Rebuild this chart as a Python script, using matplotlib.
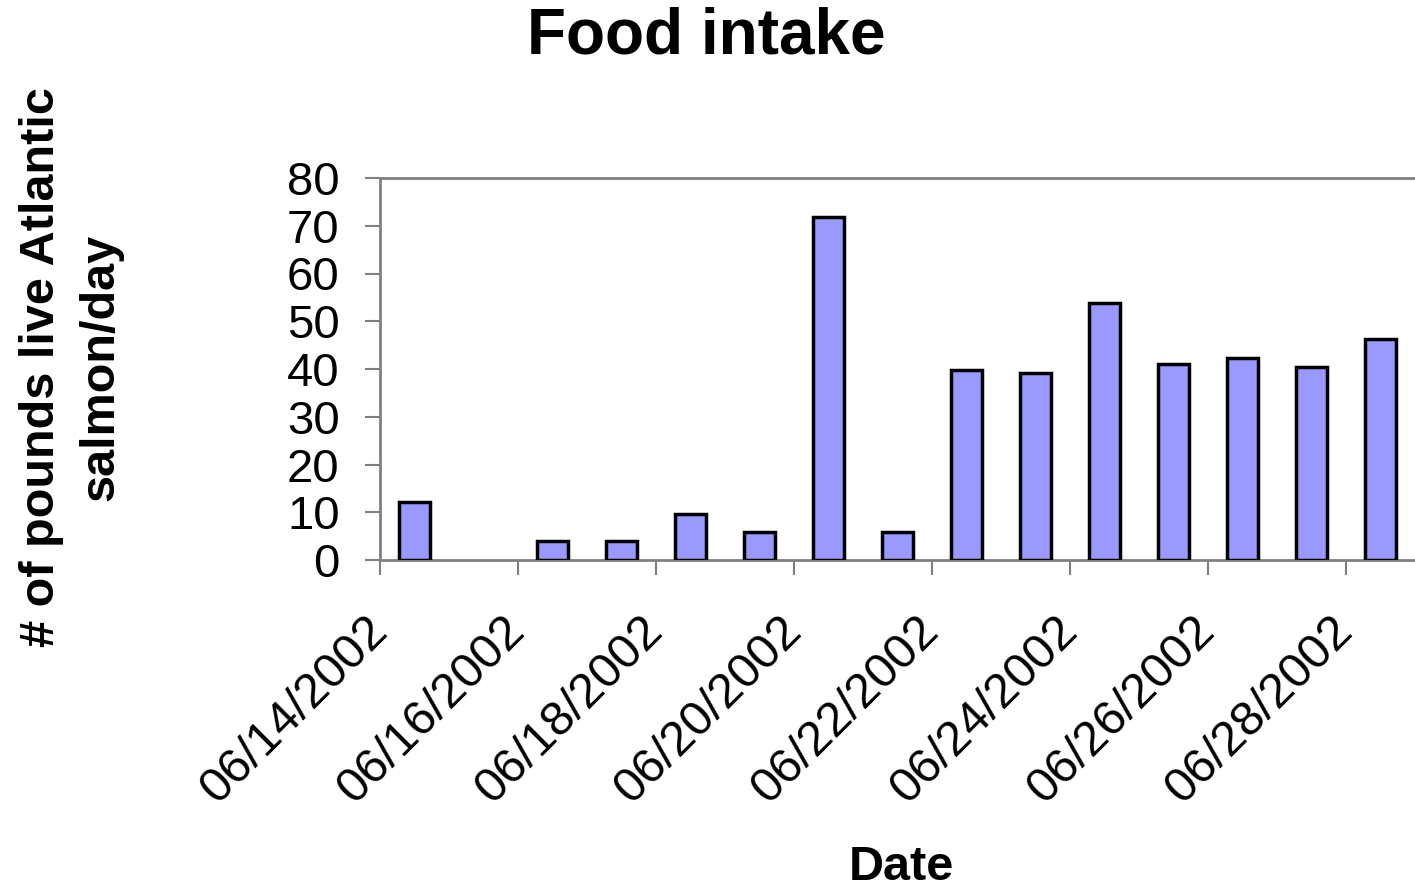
import numpy as np
import matplotlib
matplotlib.use('Agg')
import matplotlib.pyplot as plt

plt.rcParams['font.family'] = ['Liberation Sans', 'DejaVu Sans']

# Datos: libras de salmon por dia (06/15 sin dato)
fechas = ['06/14/2002', '06/15/2002', '06/16/2002', '06/17/2002', '06/18/2002',
          '06/19/2002', '06/20/2002', '06/21/2002', '06/22/2002', '06/23/2002',
          '06/24/2002', '06/25/2002', '06/26/2002', '06/27/2002', '06/28/2002']
libras = [12.2, np.nan, 4.0, 4.0, 9.7, 5.8, 71.8, 5.8, 39.8, 39.2,
          53.8, 41.0, 42.4, 40.5, 46.2]
yticks = [0, 10, 20, 30, 40, 50, 60, 70, 80]

fig = plt.figure(figsize=(14.15, 8.9), dpi=100)
ax = fig.add_axes([380/1415, 1-560/890, 1035/1415, 382/890])

n = len(fechas)
pos = np.arange(n) + 0.5
ax.bar(pos, libras, width=0.44, color='#9999ff', edgecolor='black',
       linewidth=2.5, zorder=3)

ax.set_xlim(0, n)
ax.set_ylim(0, 80)
ax.set_yticks(yticks)
ax.set_xticks(np.arange(0, n, 2))
ax.set_xticklabels(fechas[::2], rotation=45, ha='right', va='center',
                   rotation_mode='anchor', fontsize=35)

gris = '#808080'
for s in ['left', 'bottom', 'top']:
    ax.spines[s].set_color(gris)
    ax.spines[s].set_linewidth(2.0)
ax.spines['right'].set_visible(False)
ax.tick_params(axis='both', colors=gris, width=1.5, length=11,
               labelcolor='black')
ax.tick_params(axis='y', pad=18, labelsize=34)
ax.tick_params(axis='x', pad=35)

fig.text(706/1415, 1-37/890, 'Food intake', fontsize=46, fontweight='bold',
         ha='center', va='center')
fig.text(71/1415, 1-367/890, '# of pounds live Atlantic\nsalmon/day',
         fontsize=35, fontweight='bold', rotation=90, ha='center',
         va='center', linespacing=1.4)
fig.text(901/1415, 1-868/890, 'Date', fontsize=35, fontweight='bold',
         ha='center', va='center')

fig.savefig('out.png', dpi=100)
